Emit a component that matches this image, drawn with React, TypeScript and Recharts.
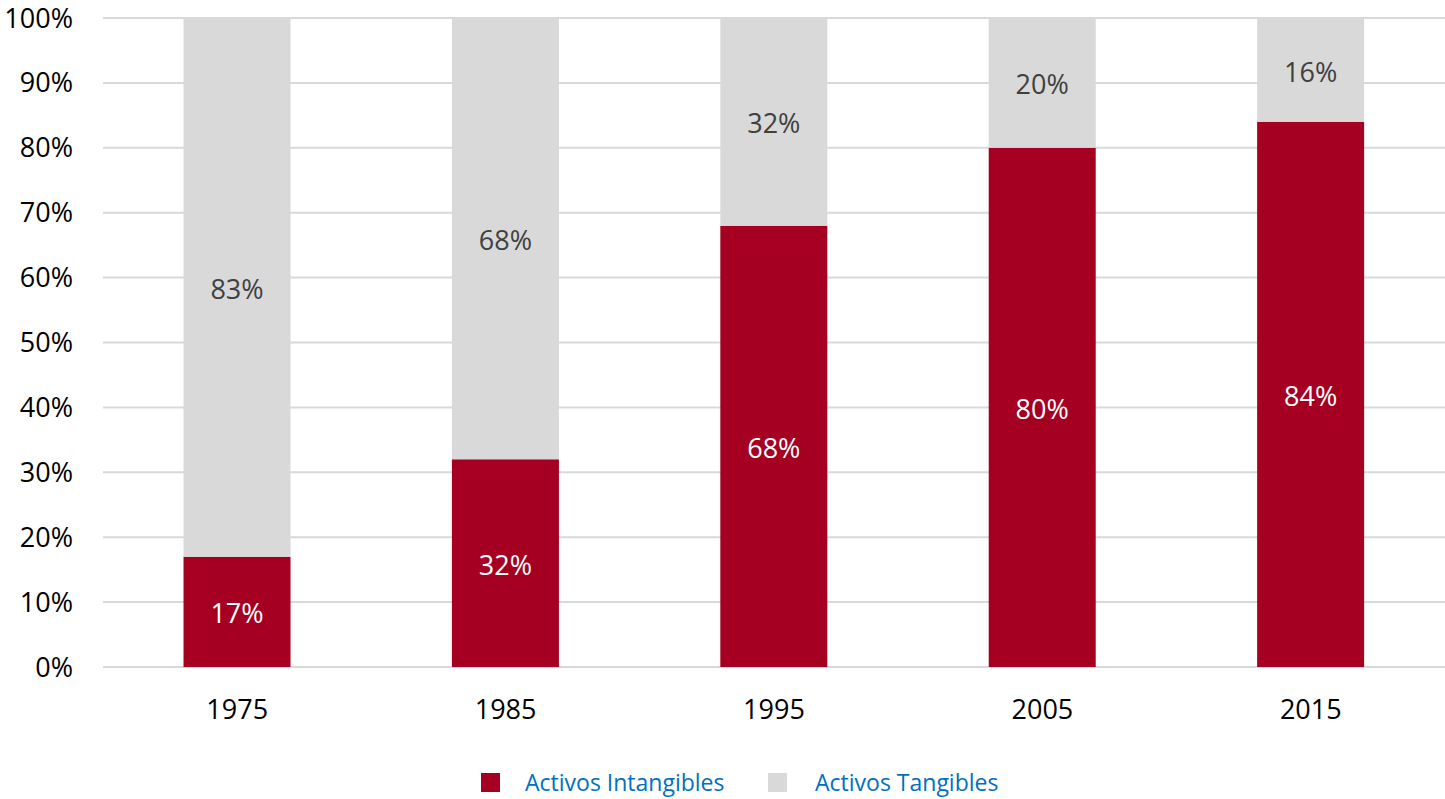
import React from 'react';
import { BarChart, Bar, XAxis, YAxis, CartesianGrid, Legend, LabelList } from 'recharts';

const years = ['1975', '1985', '1995', '2005', '2015'];
const intangibles = [17, 32, 68, 80, 84];
const tangibles = [83, 68, 32, 20, 16];
const yTicks = [0, 10, 20, 30, 40, 50, 60, 70, 80, 90, 100];

const data = years.map((y, i) => ({ year: y, intangibles: intangibles[i], tangibles: tangibles[i] }));

const RED = '#A50021';
const GRAY = '#D9D9D9';
const FONT = '"Open Sans", sans-serif';

const LegendContent = () => (
  <div style={{ position: 'relative', height: 72, width: 1445, fontFamily: FONT }}>
    <div style={{ position: 'absolute', left: 481, top: 46, width: 19, height: 19, background: RED }} />
    <div style={{ position: 'absolute', left: 525, top: 39, fontSize: 23, color: '#0070C0', whiteSpace: 'nowrap' }}>Activos Intangibles</div>
    <div style={{ position: 'absolute', left: 768, top: 46, width: 19, height: 19, background: GRAY }} />
    <div style={{ position: 'absolute', left: 815, top: 39, fontSize: 23, color: '#0070C0', whiteSpace: 'nowrap' }}>Activos Tangibles</div>
  </div>
);

export default function App() {
  return (
    <div style={{ position: 'absolute', left: 0, top: 0, width: 1445, height: 799, background: '#fff' }}>
      <BarChart
        width={1445}
        height={799}
        data={data}
        margin={{ top: 18, right: 0, left: 0, bottom: 0 }}
        barCategoryGap="30%"
      >
        <CartesianGrid vertical={false} stroke="#D9D9D9" strokeWidth={2} />
        <XAxis
          dataKey="year"
          axisLine={false}
          tickLine={false}
          height={60}
          tickMargin={27}
          tick={{ fill: '#000', fontSize: 27, fontFamily: FONT }}
        />
        <YAxis
          width={103}
          domain={[0, 100]}
          ticks={yTicks}
          interval={0}
          axisLine={false}
          tickLine={false}
          tickMargin={24}
          tickFormatter={(v) => `${v}%`}
          tick={{ fill: '#000', fontSize: 27, fontFamily: FONT }}
        />
        <Legend verticalAlign="bottom" height={72} content={<LegendContent />} />
        <Bar dataKey="intangibles" stackId="a" fill={RED} isAnimationActive={false}>
          <LabelList dataKey="intangibles" position="center" formatter={(v: any) => `${v}%`} fill="#fff" fontSize={27} fontFamily={FONT} dy={2} />
        </Bar>
        <Bar dataKey="tangibles" stackId="a" fill={GRAY} isAnimationActive={false}>
          <LabelList dataKey="tangibles" position="center" formatter={(v: any) => `${v}%`} fill="#404040" fontSize={27} fontFamily={FONT} dy={2} />
        </Bar>
      </BarChart>
    </div>
  );
}
